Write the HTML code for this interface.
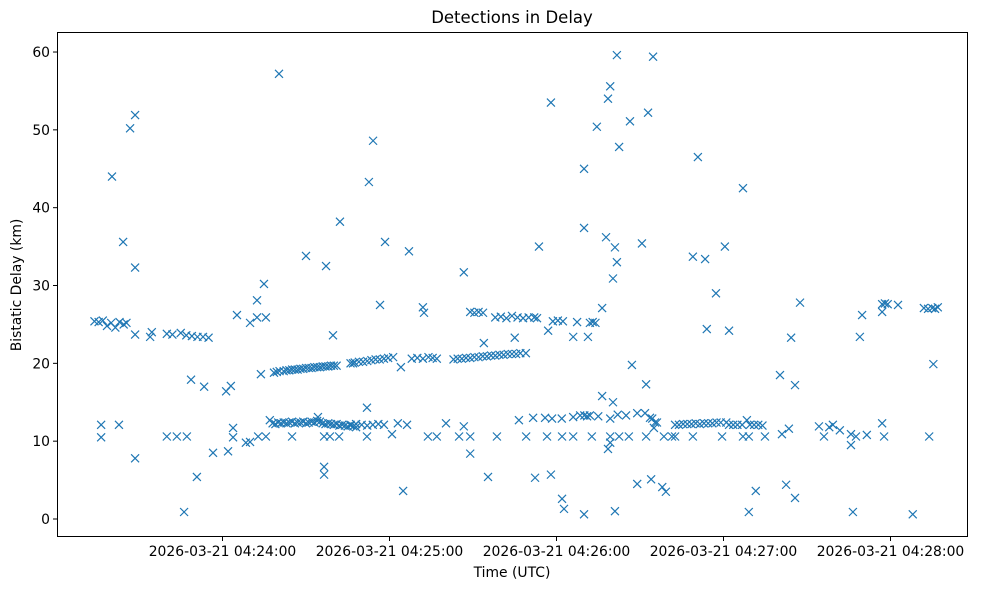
<!DOCTYPE html>
<html><head><meta charset="utf-8"><style>
body{margin:0;background:#fff;}
svg{display:block;font-family:"DejaVu Sans","Liberation Sans",sans-serif;}
</style></head><body>
<svg id="chart" width="990" height="590">
<rect width="990" height="590" fill="#fff"/>
<text x="512" y="23" text-anchor="middle" font-size="16.5" fill="#000">Detections in Delay</text>
<text x="512" y="577" text-anchor="middle" font-size="13.9" fill="#000">Time (UTC)</text>
<text transform="translate(21,285) rotate(-90)" text-anchor="middle" font-size="13.9" fill="#000">Bistatic Delay (km)</text>
<g id="ticks"></g>
<g id="marks"></g>
<rect x="57.5" y="32.5" width="910" height="504" fill="none" stroke="#000" stroke-width="1"/>
</svg>
<script>
// seconds after 2026-03-21 04:23:00 UTC
const times = [
14,15.5,17,18.5,20,21.5,23,24.5,25.5,16.4,16.4,22.8,20.3,26.8,28.6,24.3,28.6,28.6,28.6,34,34.6,
40,42,45,47,49,51,53,55,48.7,53.4,61.3,63,65.2,69.9,72.4,75.6,72.4,74.9,73.8,
40,43.6,47.2,56.6,62,50.8,46.2,63.8,63.8,68.4,69.9,72.8,75.6,85,96.5,98.6,101.9,96.5,96.5,94.3,
77,78,79,80,81,82,83,84,85,86,87,88,89,90,91,92,93,94,95,96,97,98,99,100,101,102,103,104,105,106,107,108,
78.5,79.5,80.5,82,83,84,85,86,87,88,89,90,91,92,93,94,95,96,97,98,99,100,101,
102.2,90,97.2,99.7,80.3,106.9,
201.7,214.7,199.3,198.5,178,194.5,206.4,212.9,202.5,189.9,114.1,112.6,118.4,127,146.7,173.7,189.9,197.8,201,210.7,201.7,200.3,196.4,116.6,132,132.4,
149,150.5,152,153.6,158,160,162,164,166,168,170,172,173,178.7,180.5,182.3,187.4,192,193,194,177,186,191.3,153.9,165,
106,107.5,109,110.5,112,113.5,115,116.5,118,119.5,121.3,124.1,128,130,132,134,135.5,137,
143,144.5,146,147.5,149,150.5,152,153.5,155,156.5,158,159.5,161,162.5,164,165.5,167,169,
207.1,212.2,196.4,200.3,
106,108,110,112,114,116,118,111.9,123,126.3,140.3,146.7,166.5,171.6,175.9,178.4,181.9,186,188.5,190,191,192,195,199.3,202,205,209,211.8,214.4,215,216.1,
111.9,120.9,133.8,137,145,149,158.6,169.1,176.6,182,186,192.7,199.3,202.5,206,212.2,198.5,199.3,149,
155.4,172.3,178,209,214,182,182.7,189.9,201,124.9,
230.8,247,240.5,229,233.4,237.3,234,242,267.5,264.3,260.3,265.7,289.8,289,297,298,299,297,302.7,312,313.5,315,316,317,315.4,
222.6,224,225.5,227,228.5,230,231.5,233,234.5,236,237.5,239,241,242,243.5,245,246.7,248.4,249.5,251,252.5,254,213.6,215.4,
218.6,221.5,222.6,229,239.5,247,249.1,254.9,276.1,297.7,313.9,
261,263.5,274.3,278,279.3,281.8,285.8,287.6,285.8,291.5,297,
218,219.3,251.6,262.5,265.7,249.1,286.5,308
];
const delays = [
25.4,25.3,25.5,24.8,25.2,24.6,25.3,25.0,25.2,12.1,10.5,12.1,44,50.2,51.9,35.6,32.3,23.7,7.8,23.4,24.0,
23.8,23.7,23.9,23.6,23.5,23.4,23.4,23.3,17.9,17.0,16.4,17.1,26.2,25.2,25.9,25.9,28.1,30.2,18.6,
10.6,10.6,10.6,8.5,8.7,5.4,0.9,11.7,10.5,9.8,9.9,10.6,10.6,10.6,10.6,10.6,10.6,6.7,5.7,13.1,
12.7,12.3,12.2,12.4,12.3,12.4,12.3,12.4,12.5,12.3,12.4,12.4,12.5,12.3,12.4,12.5,12.4,12.6,12.5,12.3,12.2,12.3,12.2,12.1,12.2,12.0,12.1,12.0,11.9,12.0,11.9,11.8,
18.8,18.9,19.0,19.0,19.1,19.1,19.2,19.2,19.2,19.3,19.3,19.4,19.4,19.4,19.5,19.5,19.5,19.6,19.6,19.6,19.7,19.7,19.7,
38.2,33.8,32.5,23.6,57.2,20.0,
59.6,59.4,55.6,54.0,53.5,50.4,51.1,52.2,47.8,45.0,48.6,43.3,35.6,34.4,31.7,35.0,37.4,36.2,34.9,35.4,33.0,30.9,27.1,27.5,27.2,26.5,
26.6,26.5,26.6,26.5,25.9,26.0,25.8,26.1,25.9,25.8,25.9,25.9,25.8,25.4,25.5,25.4,25.3,25.2,25.3,25.2,24.2,23.4,23.4,22.6,23.3,
20.0,20.1,20.2,20.2,20.3,20.4,20.5,20.5,20.6,20.7,20.8,19.5,20.6,20.7,20.6,20.8,20.7,20.6,
20.5,20.6,20.6,20.7,20.7,20.8,20.8,20.9,20.9,21.0,21.0,21.1,21.1,21.2,21.2,21.2,21.3,21.3,
19.8,17.3,15.8,15.0,
12.1,12.2,12.1,12.0,12.1,12.2,12.1,14.3,12.3,12.1,12.3,11.9,12.7,13.0,13.0,12.9,12.9,13.1,13.3,13.3,13.2,13.3,13.2,12.9,13.4,13.3,13.6,13.6,12.9,11.7,12.4,
10.6,10.9,10.6,10.6,10.6,10.6,10.6,10.6,10.6,10.6,10.6,10.6,10.6,10.6,10.6,10.6,9.0,9.8,8.4,
5.4,5.3,5.7,4.5,5.1,2.6,1.3,0.6,1.0,3.6,
46.5,42.5,35.0,33.7,33.4,29.0,24.4,24.2,27.8,23.3,18.5,17.2,26.2,23.4,27.6,27.7,27.6,26.6,27.5,27.1,27.0,27.1,27.0,27.2,19.9,
12.1,12.1,12.2,12.2,12.2,12.3,12.2,12.3,12.3,12.3,12.4,12.4,12.4,12.1,12.1,12.1,12.1,12.7,12.1,12.1,12.1,12.0,13.0,12.4,
10.6,10.6,10.6,10.6,10.6,10.6,10.6,10.6,10.6,10.6,10.6,
10.9,11.6,11.9,11.8,12.1,11.4,10.9,10.6,9.5,10.8,12.3,
4.1,3.5,3.6,4.4,2.7,0.9,0.9,0.6
];
const yTickValues = [0,10,20,30,40,50,60];
const xTickSeconds = [60,120,180,240,300];
const xTickLabels = ["2026-03-21 04:24:00","2026-03-21 04:25:00","2026-03-21 04:26:00","2026-03-21 04:27:00","2026-03-21 04:28:00"];

const NS="http://www.w3.org/2000/svg";
function xScale(s){return 55.5 + s*2.7833;}
function yScale(v){return 519 - v*7.783;}
const ticks=document.getElementById('ticks');
const marks=document.getElementById('marks');
function mk(tag,attrs,parent){const e=document.createElementNS(NS,tag);for(const k in attrs)e.setAttribute(k,attrs[k]);parent.appendChild(e);return e;}

yTickValues.forEach(v=>{
  const y=yScale(v);
  const l=mk('line',{x1:53,x2:57.5,y1:y,y2:y,stroke:'#000'},ticks);
  
  
  const t=mk('text',{x:50,y:y+5,'text-anchor':'end','font-size':13.9},ticks);
  t.textContent=String(v);
  
  
});
xTickSeconds.forEach((s,i)=>{
  const x=xScale(s);
  const l=mk('line',{x1:x,x2:x,y1:536.5,y2:541,stroke:'#000'},ticks);
  
  
  const t=mk('text',{x:x,y:556,'text-anchor':'middle','font-size':13.9},ticks);
  t.textContent=xTickLabels[i];
  
  
});
const n=Math.min(times.length,delays.length);
for(let i=0;i<n;i++){
  const cx=xScale(times[i]), cy=yScale(delays[i]), r=4;
  const p=mk('path',{d:`M${cx-r},${cy-r}L${cx+r},${cy+r}M${cx-r},${cy+r}L${cx+r},${cy-r}`,stroke:'#1f77b4','stroke-width':1.2,fill:'none'},marks);
  
  
}
</script>
</body></html>
